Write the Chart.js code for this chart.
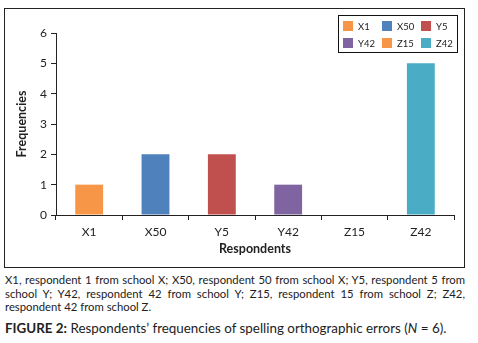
<!DOCTYPE html>
<html>
<head>
<meta charset="utf-8">
<script src="https://cdn.jsdelivr.net/npm/chart.js@4"></script>
<style>
  body { margin: 0; width: 478px; height: 343px; background: #fff; position: relative; font-family: Lato, "Open Sans", sans-serif; color: #222; overflow: hidden; }
  #box { position: absolute; left: 4px; top: 8px; width: 459px; height: 258px; border: 1px solid #222; }
  #wrap { position: absolute; left: 0; top: 0; width: 459px; height: 258px; }
  #legend { position: absolute; left: 333px; top: 6px; width: 120px; height: 38px; border: 1.5px solid #111; display: grid; grid-template-columns: 39px 39px 39px; grid-template-rows: 17px 17px; padding-left: 4px; box-sizing: border-box; padding-top: 1.5px; }
  #legend .it { display: flex; align-items: center; font-size: 9.5px; color: #222; }
  #legend .sw { width: 10px; height: 10px; margin-right: 5px; }
  .note { position: absolute; left: 5px; width: 460px; font-size: 11.3px; line-height: 13.5px; white-space: nowrap; }
  .j { text-align: justify; text-align-last: justify; }
  #fig { position: absolute; left: 5px; top: 320px; font-size: 13.4px; white-space: nowrap; }
</style>
</head>
<body>
<div id="box">
  <div id="wrap"><canvas id="chart"></canvas></div>
  <div id="legend"></div>
</div>
<div class="note j" style="top:273px">X1, respondent 1 from school X; X50, respondent 50 from school X; Y5, respondent 5 from</div>
<div class="note j" style="top:287px">school Y; Y42, respondent 42 from school Y; Z15, respondent 15 from school Z; Z42,</div>
<div class="note" style="top:300px">respondent 42 from school Z.</div>
<div id="fig"><b>FIGURE 2:</b> Respondents’ frequencies of spelling orthographic errors (<i>N</i> = 6).</div>
<script>
const respondents = ["X1", "X50", "Y5", "Y42", "Z15", "Z42"];
const frequencies = [1, 2, 2, 1, 0, 5];
const barColors = ["#F79646", "#4F81BD", "#C0504D", "#8064A2", "#F79646", "#4BACC6"];
const yTicks = [0, 1, 2, 3, 4, 5, 6];

// legend, 3 per row like the original
let legend = document.getElementById("legend");
respondents.forEach((r, i) => {
  legend.innerHTML += '<div class="it"><span class="sw" style="background:' + barColors[i] + '"></span>' + r + '</div>';
});

let ctx = document.getElementById("chart");
new Chart(ctx, {
  type: 'bar',
  data: {
    labels: respondents,
    datasets: [{
      label: 'Frequencies',
      data: frequencies,
      backgroundColor: barColors,
      barPercentage: 0.84,
      categoryPercentage: 0.5
    }]
  },
  options: {
    responsive: true,
    maintainAspectRatio: false,
    animation: false,
    layout: { padding: { left: 5, right: 10, top: 24, bottom: 11 } },
    plugins: { legend: { display: false }, tooltip: { enabled: false } },
    scales: {
      x: {
        grid: { display: true, drawOnChartArea: false, drawTicks: true, tickLength: 5, color: '#222' },
        border: { color: '#222', width: 1 },
        ticks: { color: '#222', font: { family: 'Lato', size: 12 }, padding: 5 },
        title: { display: true, text: 'Respondents', color: '#222', font: { family: 'Lato', size: 12.5, weight: 'bold' }, padding: { top: 2, bottom: 0 } },
        afterFit: (s) => { s.height = 41; }
      },
      y: {
        min: 0, max: 6,
        afterBuildTicks: (s) => { s.ticks = yTicks.map(v => ({ value: v })); },
        grid: { display: true, drawOnChartArea: false, drawTicks: true, tickLength: 5, color: '#222' },
        border: { color: '#222', width: 1 },
        ticks: { color: '#222', font: { family: 'Lato', size: 12 }, padding: 4 },
        title: { display: true, text: 'Frequencies', color: '#222', font: { family: 'Lato', size: 12.5, weight: 'bold' }, padding: { top: 4, bottom: 0 } },
        afterFit: (s) => { s.width = 46; }
      }
    }
  }
});
</script>
</body>
</html>
